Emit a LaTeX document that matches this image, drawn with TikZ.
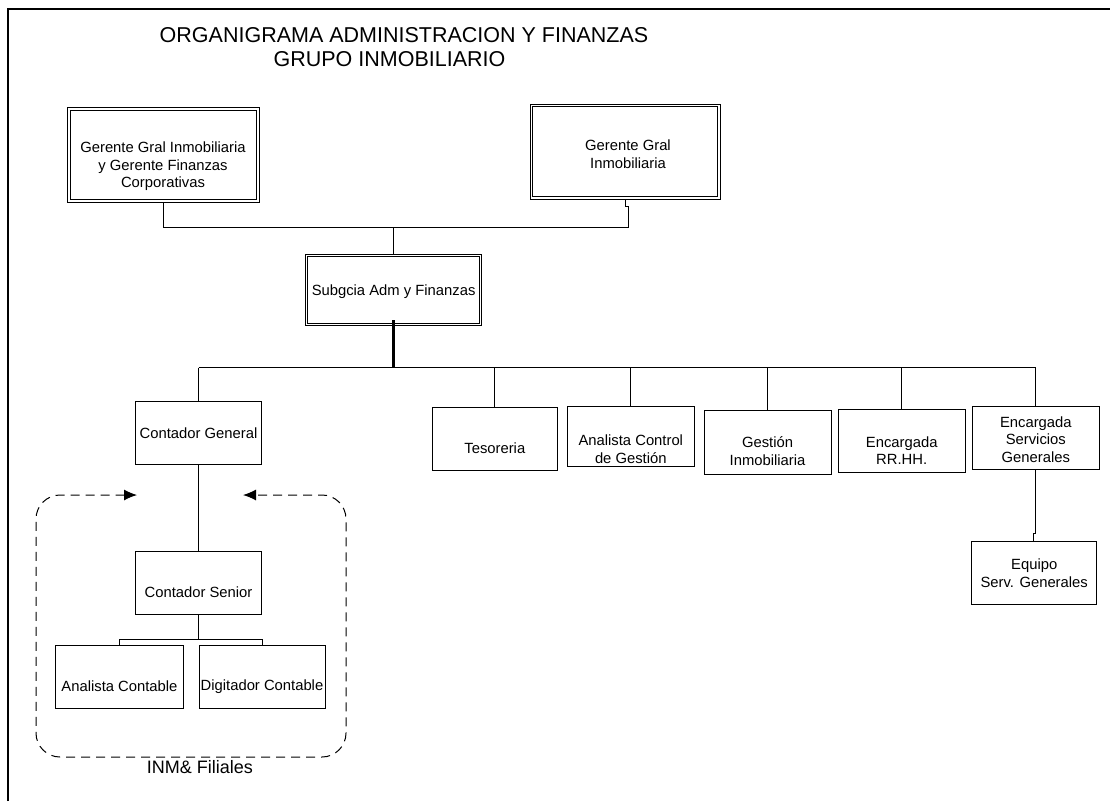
\documentclass[tikz,border=0pt]{standalone}
\usepackage{fontspec}
\setmainfont{Liberation Sans}
\usetikzlibrary{arrows.meta}
\begin{document}
\begin{tikzpicture}[x=1pt,y=-1pt,
  box/.style={draw,line width=1pt,inner sep=0pt},
  dbox/.style={draw,line width=1pt,inner sep=0pt},
  lbl/.style={inner sep=0pt,align=center,font=\fontsize{14.8}{17.5}\selectfont},
  ttl/.style={inner sep=0pt,font=\fontsize{21.5}{26}\selectfont},
  conn/.style={line width=1pt},
  grp/.style={line width=1pt,dash pattern=on 9pt off 6pt,rounded corners=24pt,
    {Latex[length=13pt,width=11pt]}-{Latex[length=13pt,width=11pt]}}]
\useasboundingbox (0,0) rectangle (1110,801);
% outer frame
\coordinate (fb) at (8,801);
\coordinate (fc) at (8,9);
\coordinate (fr) at (1110,9);
\draw[line width=2.2pt] (fb) -- (fc) -- (fr);
% title
\node[ttl] (t1) at (404,35) {ORGANIGRAMA ADMINISTRACION Y FINANZAS};
\node[ttl] (t2) at (389.5,59.5) {GRUPO INMOBILIARIO};
% top managers
\node[dbox,minimum width=192,minimum height=95.5] (g1) at (163.5,155) {};
\draw[line width=1pt] ([shift={(3.5,3.5)}]g1.north west) rectangle ([shift={(-3.5,-3.5)}]g1.south east);
\node[lbl] (g1t) at (163,166.5) {Gerente Gral Inmobiliaria\\y Gerente Finanzas\\Corporativas};
\node[dbox,minimum width=190,minimum height=94.5] (g2) at (625,151.8) {};
\draw[line width=1pt] ([shift={(2.8,2.8)}]g2.north west) rectangle ([shift={(-2.8,-2.8)}]g2.south east);
\node[lbl] (g2t) at (628,154) {Gerente Gral\\Inmobiliaria};
% sub gerencia
\node[dbox,minimum width=176,minimum height=71.5] (sub) at (393.6,290) {};
\draw[line width=1pt] ([shift={(2.8,2.8)}]sub.north west) rectangle ([shift={(-2.8,-2.8)}]sub.south east);
\node[lbl] (subt) at (393.6,291.5) {Subgcia Adm y Finanzas};
% level boxes
\node[box,minimum width=126.4,minimum height=63.3] (cg) at (198.5,433.3) {};
\node[lbl] (cgt) at (198.5,433.5) {Contador General};
\node[box,minimum width=126.4,minimum height=63] (cs) at (198.5,582.5) {};
\node[lbl] (cst) at (198.5,591.7) {Contador Senior};
\node[box,minimum width=127.6,minimum height=63.3] (ac) at (119.5,677.3) {};
\node[lbl] (act) at (119.5,686.5) {Analista Contable};
\node[box,minimum width=126,minimum height=63.3] (dc) at (262,677.3) {};
\node[lbl] (dct) at (262,687) {Digitador Contable};
\node[box,minimum width=125,minimum height=62.7] (tes) at (494.8,438.7) {};
\node[lbl] (test) at (494.8,448.3) {Tesoreria};
\node[box,minimum width=127,minimum height=60] (acg) at (630.8,436.7) {};
\node[lbl] (acgt) at (630.8,449) {Analista Control\\de Gestión};
\node[box,minimum width=127,minimum height=64] (gi) at (767.5,442) {};
\node[lbl] (git) at (767.5,451) {Gestión\\Inmobiliaria};
\node[box,minimum width=126.7,minimum height=62.7] (rh) at (901.7,441.3) {};
\node[lbl] (rht) at (901.7,450.5) {Encargada\\RR.HH.};
\node[box,minimum width=127,minimum height=63.3] (sg) at (1035.8,438.3) {};
\node[lbl] (sgt) at (1035.8,439.5) {Encargada\\Servicios\\Generales};
\node[box,minimum width=125,minimum height=63.3] (eq) at (1034.2,573.3) {};
\node[lbl] (eqt) at (1034.2,573) {Equipo\\Serv. Generales};
% connectors top
\coordinate (tb1) at (628,227.5);
\coordinate (tj) at (628,206);
\draw[conn] (g1.south) |- (tb1) -- (tj) -- (g2.south |- tj) -- (g2.south);
\draw[conn] (sub.north |- tb1) -- (sub.north);
% main bus
\coordinate (busL) at (198.5,367.5);
\coordinate (busR) at (1035.8,367.5);
\draw[line width=2.4pt] ([yshift=6pt]sub.south) -- (sub.south |- busL);
\draw[conn] (busL) -- (busR);
\foreach \n in {cg,tes,acg,gi,rh,sg} \draw[conn] (\n.north |- busL) -- (\n.north);
% contador chain
\draw[conn] (cg.south) -- (cs.north);
\coordinate (cbus) at (198.5,639);
\draw[conn] (cs.south) -- (cbus);
\draw[conn] (ac.north) -- (ac.north |- cbus) -- (dc.north |- cbus) -- (dc.north);
% servicios to equipo
\coordinate (ej1) at (1035.8,533);
\coordinate (ej2) at (1033.5,533);
\draw[conn] (sg.south) -- (ej1) -- (ej2) -- (ej2 |- eq.north);
% dashed group
\coordinate (arL) at (137,495);
\coordinate (arR) at (243,495);
\coordinate (gTL) at (36,495);
\coordinate (gBL) at (36,757);
\coordinate (gBR) at (346,757);
\coordinate (gTR) at (346,495);
\draw[grp] (arL) -- (gTL) -- (gBL) -- (gBR) -- (gTR) -- (arR);
\node[inner sep=0pt,font=\fontsize{18}{20}\selectfont] (grpt) at (200,767.5) {INM\& Filiales};
\end{tikzpicture}
\end{document}
